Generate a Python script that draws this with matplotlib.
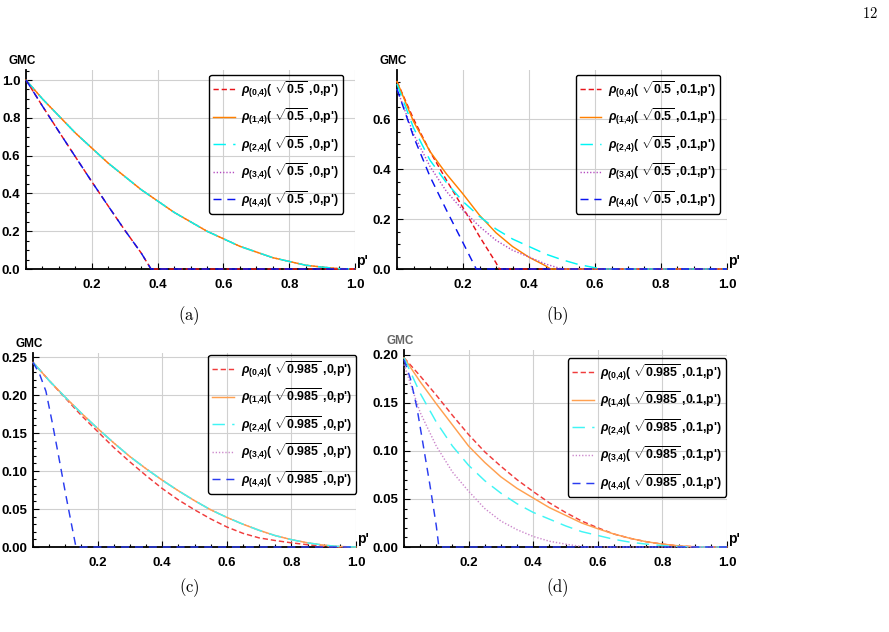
import matplotlib
matplotlib.use('Agg')
import matplotlib.pyplot as plt
from matplotlib.ticker import MultipleLocator, FixedLocator, FixedFormatter

plt.rcParams['font.family'] = ['Liberation Sans', 'DejaVu Sans']
plt.rcParams['font.weight'] = 'bold'
plt.rcParams['mathtext.fontset'] = 'custom'
plt.rcParams['mathtext.rm'] = 'Liberation Sans:bold'
plt.rcParams['mathtext.it'] = 'Liberation Sans:italic:bold'
plt.rcParams['mathtext.bf'] = 'Liberation Sans:bold'
plt.rcParams['mathtext.sf'] = 'Liberation Sans:bold'

# ---------------- data ----------------
p_grid = [0.0, 0.05, 0.1, 0.15, 0.2, 0.25, 0.3, 0.35, 0.4, 0.45, 0.5,
          0.55, 0.6, 0.65, 0.7, 0.75, 0.8, 0.85, 0.9, 0.95, 1.0]

# panel (a): sqrt(0.5), 0
a_p_fast = [0.0, 0.05, 0.1, 0.15, 0.2, 0.25, 0.3, 0.35, 0.38, 1.0]
a_fast = [1.0, 0.862, 0.727, 0.594, 0.462, 0.333, 0.206, 0.085, 0.0, 0.0]
a_slow = [1.0, 0.90, 0.81, 0.72, 0.64, 0.56, 0.49, 0.42, 0.36, 0.30, 0.25,
          0.20, 0.16, 0.12, 0.09, 0.06, 0.04, 0.02, 0.01, 0.002, 0.0]

# panel (b): sqrt(0.5), 0.1
b_p0 = [0.0, 0.05, 0.1, 0.15, 0.2, 0.25, 0.3, 0.31, 1.0]
b_v0 = [0.75, 0.60, 0.47, 0.355, 0.245, 0.13, 0.025, 0.0, 0.0]
b_p1 = [0.0, 0.05, 0.1, 0.15, 0.2, 0.25, 0.3, 0.35, 0.4, 0.45, 0.465, 1.0]
b_v1 = [0.75, 0.59, 0.47, 0.38, 0.30, 0.215, 0.145, 0.09, 0.047, 0.013, 0.0, 0.0]
b_p2 = [0.0, 0.05, 0.1, 0.15, 0.2, 0.25, 0.3, 0.35, 0.4, 0.45, 0.5, 0.55, 0.6, 0.63, 1.0]
b_v2 = [0.74, 0.565, 0.435, 0.345, 0.27, 0.21, 0.16, 0.12, 0.09, 0.06, 0.037, 0.018, 0.005, 0.0, 0.0]
b_p3 = [0.0, 0.05, 0.1, 0.15, 0.2, 0.25, 0.3, 0.35, 0.4, 0.45, 0.5, 1.0]
b_v3 = [0.72, 0.54, 0.41, 0.31, 0.235, 0.17, 0.115, 0.075, 0.048, 0.02, 0.0, 0.0]
b_p4 = [0.0, 0.05, 0.1, 0.15, 0.2, 0.24, 1.0]
b_v4 = [0.72, 0.53, 0.37, 0.235, 0.105, 0.0, 0.0]

# panel (c): sqrt(0.985), 0
c_v0 = [0.243, 0.219, 0.196, 0.173, 0.152, 0.131, 0.112, 0.094, 0.077, 0.062, 0.049,
        0.037, 0.0264, 0.018, 0.012, 0.0085, 0.0055, 0.003, 0.0008, 0.0, 0.0]
c_slow = [0.243, 0.219, 0.197, 0.176, 0.156, 0.137, 0.119, 0.103, 0.088, 0.074, 0.061,
          0.049, 0.039, 0.030, 0.022, 0.015, 0.0097, 0.0055, 0.0024, 0.0006, 0.0]
c_p4 = [0.0, 0.02, 0.04, 0.06, 0.08, 0.1, 0.12, 0.133, 1.0]
c_v4 = [0.243, 0.228, 0.205, 0.163, 0.118, 0.072, 0.028, 0.0, 0.0]

# panel (d): sqrt(0.985), 0.1
d_v0 = [0.197, 0.178, 0.158, 0.137, 0.117, 0.099, 0.084, 0.070, 0.0577, 0.046, 0.036,
        0.027, 0.020, 0.0135, 0.009, 0.0055, 0.003, 0.0012, 0.0003, 0.0, 0.0]
d_v1 = [0.197, 0.172, 0.149, 0.127, 0.105, 0.088, 0.073, 0.061, 0.051, 0.041, 0.033,
        0.025, 0.019, 0.0135, 0.009, 0.0055, 0.003, 0.0012, 0.0003, 0.0, 0.0]
d_v2 = [0.197, 0.160, 0.130, 0.105, 0.085, 0.069, 0.056, 0.045, 0.036, 0.029, 0.022,
        0.016, 0.012, 0.008, 0.005, 0.003, 0.0015, 0.0005, 0.0, 0.0, 0.0]
d_p3 = [0.0, 0.05, 0.1, 0.15, 0.2, 0.25, 0.3, 0.35, 0.4, 0.45, 0.5, 0.55, 0.56, 1.0]
d_v3 = [0.19, 0.14, 0.105, 0.078, 0.058, 0.040, 0.027, 0.018, 0.011, 0.006, 0.003, 0.0005, 0.0, 0.0]
d_p4 = [0.0, 0.02, 0.04, 0.06, 0.08, 0.1, 0.108, 1.0]
d_v4 = [0.195, 0.175, 0.145, 0.105, 0.065, 0.022, 0.0, 0.0]

radicands = ['0.5', '0.5', '0.985', '0.985']
second_args = ['0', '0.1', '0', '0.1']
captions = ['(a)', '(b)', '(c)', '(d)']
x_ticks = [0.2, 0.4, 0.6, 0.8, 1.0]
x_tick_labels = ['0.2', '0.4', '0.6', '0.8', '1.0']
y_ticks_ab = [0.0, 0.2, 0.4, 0.6, 0.8, 1.0]
y_tick_labels_ab = ['0.0', '0.2', '0.4', '0.6', '0.8', '1.0']
y_ticks_cd = [0.0, 0.05, 0.10, 0.15, 0.20, 0.25]
y_tick_labels_cd = ['0.00', '0.05', '0.10', '0.15', '0.20', '0.25']

# ---------------- styles ----------------
W, H = 889, 632
fig = plt.figure(figsize=(W / 100, H / 100), dpi=100)
LW = 1.05

styles_dark = [
    dict(color='#e8141a', ls=(0, (3.6, 2.0))),
    dict(color='#ff8000', ls='-'),
    dict(color='#00f5f5', ls=(0, (8.5, 5.0))),
    dict(color='#b44cc0', ls=(0, (0.9, 1.3))),
    dict(color='#0a14f0', ls=(0, (5.5, 4.0))),
]
styles_light = [
    dict(color='#f03c3c', ls=(0, (3.6, 2.0))),
    dict(color='#ffa050', ls='-'),
    dict(color='#40f5f5', ls=(0, (8.5, 5.0))),
    dict(color='#cc88cc', ls=(0, (0.9, 1.3))),
    dict(color='#2a3cf0', ls=(0, (5.5, 4.0))),
]


def px_axes(left, right, top, bottom):
    return fig.add_axes([left / W, 1 - bottom / H, (right - left) / W, (bottom - top) / H])


def setup(ax, ylim, yticks, ylabels, yminor, gmc_color='black'):
    ax.set_xlim(0, 1.0)
    ax.set_ylim(0, ylim)
    for s in ['top', 'right']:
        ax.spines[s].set_visible(False)
    for s in ['left', 'bottom']:
        ax.spines[s].set_linewidth(1.3)
        ax.spines[s].set_zorder(2)
    ax.xaxis.set_major_locator(FixedLocator(x_ticks))
    ax.xaxis.set_major_formatter(FixedFormatter(x_tick_labels))
    ax.xaxis.set_minor_locator(MultipleLocator(0.05))
    ax.yaxis.set_major_locator(FixedLocator(yticks))
    ax.yaxis.set_major_formatter(FixedFormatter(ylabels))
    ax.yaxis.set_minor_locator(MultipleLocator(yminor))
    ax.tick_params(which='both', direction='in', labelsize=9.5, width=0.8)
    ax.tick_params(which='major', length=4)
    ax.tick_params(which='minor', length=2)
    ax.tick_params(axis='x', pad=7)
    ax.tick_params(axis='y', pad=4)
    for lab in ax.get_xticklabels() + ax.get_yticklabels():
        lab.set_fontweight('bold')
    ax.grid(True, which='major', color='#d0d0d0', lw=0.8, zorder=0)
    ax.set_axisbelow(True)
    ax.text(-0.012, 1.015, 'GMC', transform=ax.transAxes, ha='center', va='bottom',
            fontsize=8.5, fontweight='bold', color=gmc_color)
    ax.text(1.004, 0.005, "p'", transform=ax.transAxes, ha='left', va='bottom',
            fontsize=10, fontweight='bold')


def label(k, r, d):
    return r"$\rho_{(%d{,}4)}$( $\sqrt{%s}$ ,%s,p')" % (k, r, d)


def add_legend(ax, styles, r, d, anchor):
    handles = []
    for k, st in enumerate(styles):
        h, = ax.plot([], [], lw=LW, **st)
        h.set_label(label(k, r, d))
        handles.append(h)
    leg = ax.legend(handles=handles, loc='upper right', bbox_to_anchor=anchor,
                    borderaxespad=0, fontsize=8.9, handlelength=1.75,
                    handletextpad=0.55, labelspacing=0.55, borderpad=0.32,
                    frameon=True, fancybox=True)
    fr = leg.get_frame()
    fr.set_facecolor('none')
    fr.set_edgecolor('black')
    fr.set_alpha(None)
    fr.set_linewidth(1.0)
    for t in leg.get_texts():
        t.set_fontweight('bold')


def plot_series(ax, ps, vs, styles, order):
    for i in order:
        st = styles[i]
        ax.plot(ps[i], vs[i], lw=LW, clip_on=False, zorder=3, **st)


# (a)
ax = px_axes(26, 355, 70, 269)
setup(ax, 1.053, y_ticks_ab, y_tick_labels_ab, 0.05)
plot_series(ax, [a_p_fast, p_grid, p_grid, p_grid, a_p_fast],
            [a_fast, a_slow, a_slow, a_slow, a_fast], styles_dark, [3, 1, 2, 0, 4])
add_legend(ax, styles_dark, radicands[0], second_args[0], (0.9635, 0.975))

# (b)
ax = px_axes(397, 727, 70, 269)
setup(ax, 0.796, y_ticks_ab, y_tick_labels_ab, 0.05)
plot_series(ax, [b_p0, b_p1, b_p2, b_p3, b_p4], [b_v0, b_v1, b_v2, b_v3, b_v4],
            styles_dark, [0, 1, 2, 3, 4])
add_legend(ax, styles_dark, radicands[1], second_args[1], (0.979, 0.975))

# (c)
ax = px_axes(33, 356, 353, 547)
setup(ax, 0.2553, y_ticks_cd, y_tick_labels_cd, 0.01)
plot_series(ax, [p_grid, p_grid, p_grid, p_grid, c_p4], [c_v0, c_slow, c_slow, c_slow, c_v4],
            styles_light, [0, 3, 1, 2, 4])
add_legend(ax, styles_light, radicands[2], second_args[2], (1.0, 0.99))

# (d)
ax = px_axes(404, 727, 350, 547)
setup(ax, 0.205, y_ticks_cd, y_tick_labels_cd, 0.01, gmc_color='#666666')
plot_series(ax, [p_grid, p_grid, p_grid, d_p3, d_p4], [d_v0, d_v1, d_v2, d_v3, d_v4],
            styles_light, [0, 1, 2, 3, 4])
add_legend(ax, styles_light, radicands[3], second_args[3], (0.997, 0.959))

# captions
for txt, (cx, cy) in zip(captions, [(189, 316), (557, 316), (189, 588), (557, 588)]):
    fig.text(cx / W, 1 - cy / H, r'$\mathrm{%s}$' % txt, math_fontfamily='cm',
             ha='center', va='center', fontsize=12)

fig.text(870 / W, 1 - 13 / H, r'$\mathrm{12}$', math_fontfamily='cm',
         ha='center', va='center', fontsize=10.5)

fig.savefig('out.png', dpi=100)
